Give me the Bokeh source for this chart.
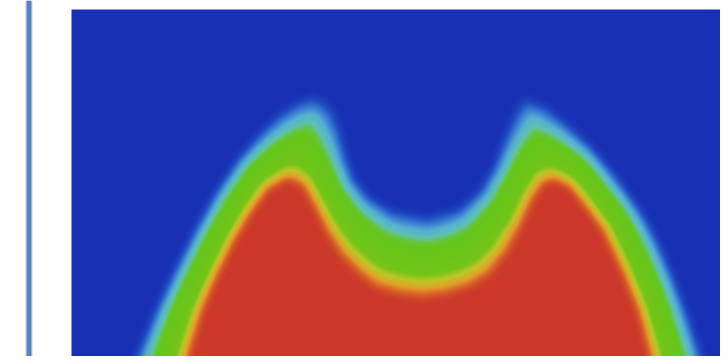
import numpy as np
from bokeh.plotting import figure
from bokeh.models import Range1d
from bokeh.embed import file_html
from bokeh.resources import INLINE

# ---- values (page pixel coordinates) ----
# outer edge of the glow (where the blue background starts to lighten)
outer_x = [126, 140, 158, 177, 198, 220, 242, 263, 283, 302, 320, 334, 345, 352, 358, 366, 380,
           403, 435, 464, 485, 498, 508, 517, 526, 536, 555, 572, 587, 600, 620, 640, 656, 670,
           685, 700, 713, 720]
outer_y = [390, 364, 320, 280, 238, 198, 165, 140, 120, 106, 100, 105, 118, 138, 165, 186, 202,
           215, 220, 213, 195, 172, 145, 122, 107, 102, 110, 124, 138, 150, 174, 200, 224, 250,
           285, 325, 364, 390]
# inner edge (where orange turns into the red core)
inner_x = [190, 200, 213, 228, 245, 262, 278, 295, 307, 318, 330, 345, 362, 380, 405, 430,
           455, 480, 500, 518, 532, 543, 553, 562, 575, 590, 607, 627, 642, 650, 654, 660]
inner_y = [390, 364, 320, 285, 250, 222, 200, 191, 196, 215, 240, 265, 283, 298, 306, 309,
           306, 298, 285, 262, 235, 210, 195, 192, 198, 217, 240, 283, 320, 350, 364, 390]
# colour scale: position between outer (0) and inner (1) edge
stop_t = [0.00, 0.07, 0.14, 0.21, 0.29, 0.35, 0.40, 0.70, 0.78, 0.86, 0.93, 1.00]
stop_r = [24, 32, 56, 86, 96, 100, 102, 115, 188, 226, 216, 204]
stop_g = [48, 76, 126, 176, 194, 198, 198, 196, 200, 160, 96, 56]
stop_b = [180, 194, 210, 210, 176, 56, 28, 24, 40, 40, 40, 42]
field_box = [79, 17, 728, 364]  # left, top, right, bottom of the coloured field
rule_x = [34, 39]               # vertical rule on the left

W_PAGE, H_PAGE, M = 728, 364, 8


def signed_dist(px, py, cx, cy):
    cx = np.asarray(cx, float)
    cy = np.asarray(cy, float)
    d = np.full(px.shape, np.inf)
    for k in range(len(cx) - 1):
        ax, ay, bx, by = cx[k], cy[k], cx[k + 1], cy[k + 1]
        vx, vy = bx - ax, by - ay
        l2 = vx * vx + vy * vy
        t = np.clip(((px - ax) * vx + (py - ay) * vy) / l2, 0, 1)
        dx = px - (ax + t * vx)
        dy = py - (ay + t * vy)
        d = np.minimum(d, np.hypot(dx, dy))
    polx = list(cx) + [cx[-1], cx[0]]
    poly = list(cy) + [3000.0, 3000.0]
    inside = np.zeros(px.shape, bool)
    n = len(polx)
    for k in range(n):
        x1, y1 = polx[k], poly[k]
        x2, y2 = polx[(k + 1) % n], poly[(k + 1) % n]
        if y1 == y2:
            continue
        cond = ((y1 > py) != (y2 > py)) & (px < (x2 - x1) * (py - y1) / (y2 - y1) + x1)
        inside ^= cond
    return np.where(inside, d, -d)


def box_blur(a, rad):
    k = 2 * rad + 1
    pa = np.pad(a, ((0, 0), (rad, rad)), mode="edge")
    c = np.concatenate([np.zeros((pa.shape[0], 1)), np.cumsum(pa, axis=1)], axis=1)
    a = (c[:, k:] - c[:, :-k]) / k
    pa = np.pad(a, ((rad, rad), (0, 0)), mode="edge")
    c = np.concatenate([np.zeros((1, pa.shape[1])), np.cumsum(pa, axis=0)], axis=0)
    return (c[k:, :] - c[:-k, :]) / k


l, t_, r, b = field_box
w, h = r - l, b - t_
xs = l + np.arange(w) + 0.5
ys = b - (np.arange(h) + 0.5)          # row 0 = bottom of field
PX, PY = np.meshgrid(xs, ys)
d1 = signed_dist(PX, PY, outer_x, outer_y)
d2 = signed_dist(PX, PY, inner_x, inner_y)
with np.errstate(divide="ignore", invalid="ignore"):
    tt = d1 / (d1 - d2)
tt = np.where(d1 <= 0, 0.0, tt)
tt = np.where(d2 >= 0, 1.0, tt)
tt = np.clip(np.nan_to_num(tt), 0, 1)
tt = box_blur(box_blur(tt, 4), 3)

rgba = np.empty((h, w, 4), dtype=np.uint8)
rgba[..., 0] = np.interp(tt, stop_t, stop_r).astype(np.uint8)
rgba[..., 1] = np.interp(tt, stop_t, stop_g).astype(np.uint8)
rgba[..., 2] = np.interp(tt, stop_t, stop_b).astype(np.uint8)
rgba[..., 3] = 255
img = np.ascontiguousarray(rgba).view(np.uint32).reshape(h, w)

p = figure(width=W_PAGE - M, height=H_PAGE - M, output_backend="svg", toolbar_location=None,
           x_range=Range1d(0, W_PAGE - M), y_range=Range1d(0, H_PAGE - M),
           min_border=0, outline_line_color=None)
p.axis.visible = False
p.grid.visible = False
p.background_fill_color = "white"
p.border_fill_color = "white"

# vertical rule with faint shadow
p.quad(left=rule_x[0] - M - 1.5, right=rule_x[1] - M + 1.5, bottom=0, top=H_PAGE - M,
       color="#e4e6ea", line_color=None)
p.quad(left=rule_x[0] - M, right=rule_x[1] - M, bottom=0, top=H_PAGE - M,
       color="#5683be", line_color=None)

p.image_rgba(image=[img], x=l - M, y=H_PAGE - b, dw=w, dh=h)

open("out.html", "w").write(file_html(p, INLINE))
